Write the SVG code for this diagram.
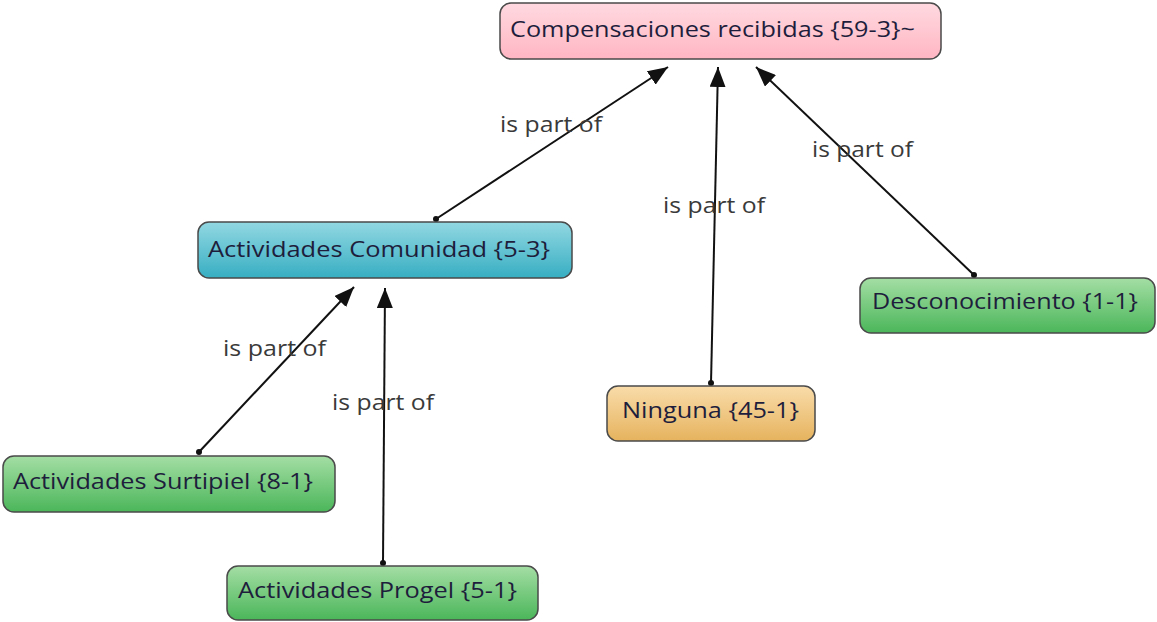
<svg xmlns="http://www.w3.org/2000/svg" width="1157" height="622" viewBox="0 0 1157 622">
  <style>
    .box { stroke: #4a4a4a; stroke-width: 1.5; }
    .name { font-family: "Open Sans", "Noto Sans", sans-serif; font-size: 21px; fill: #1e1e3c; }
    .edge { stroke: #111; stroke-width: 2; fill: none; }
    .lbl { font-family: "Open Sans", "Noto Sans", sans-serif; font-size: 21px; fill: #3a3a3a; }
  </style>
  <defs>
    <linearGradient id="gPink" x1="0" y1="0" x2="0" y2="1">
      <stop offset="0" stop-color="#ffd9e0"/>
      <stop offset="1" stop-color="#ffb6c3"/>
    </linearGradient>
    <linearGradient id="gBlue" x1="0" y1="0" x2="0" y2="1">
      <stop offset="0" stop-color="#92d8e2"/>
      <stop offset="1" stop-color="#37aec2"/>
    </linearGradient>
    <linearGradient id="gGreen" x1="0" y1="0" x2="0" y2="1">
      <stop offset="0" stop-color="#a4dea4"/>
      <stop offset="1" stop-color="#4bb65a"/>
    </linearGradient>
    <linearGradient id="gOrange" x1="0" y1="0" x2="0" y2="1">
      <stop offset="0" stop-color="#f9dcaa"/>
      <stop offset="1" stop-color="#e6b35e"/>
    </linearGradient>
    <marker id="arrow" markerUnits="userSpaceOnUse" markerWidth="22" markerHeight="16" refX="20" refY="8" orient="auto">
      <path d="M0,0 L20,8 L0,16 Z" fill="#111"/>
    </marker>
    <marker id="dot" markerUnits="userSpaceOnUse" markerWidth="8" markerHeight="8" refX="4" refY="4">
      <circle cx="4" cy="4" r="3" fill="#111"/>
    </marker>
  </defs>

  <!-- connectors -->
  <g id="connectors">
    <path class="edge" d="M436,219 L668,67" marker-start="url(#dot)" marker-end="url(#arrow)"/>
    <path class="edge" d="M711,383 L718,67" marker-start="url(#dot)" marker-end="url(#arrow)"/>
    <path class="edge" d="M974,275 L756,67" marker-start="url(#dot)" marker-end="url(#arrow)"/>
    <path class="edge" d="M199,452 L354,287" marker-start="url(#dot)" marker-end="url(#arrow)"/>
    <path class="edge" d="M383,563 L385,288" marker-start="url(#dot)" marker-end="url(#arrow)"/>
    <text class="lbl" x="500" y="132" textLength="102" lengthAdjust="spacingAndGlyphs">is part of</text>
    <text class="lbl" x="663" y="213" textLength="102" lengthAdjust="spacingAndGlyphs">is part of</text>
    <text class="lbl" x="812" y="157" textLength="101" lengthAdjust="spacingAndGlyphs">is part of</text>
    <text class="lbl" x="223" y="356" textLength="103" lengthAdjust="spacingAndGlyphs">is part of</text>
    <text class="lbl" x="332" y="410" textLength="102" lengthAdjust="spacingAndGlyphs">is part of</text>
  </g>

  <g id="compensaciones">
    <rect class="box" x="500" y="3" width="441" height="56" rx="11" fill="url(#gPink)"/>
    <text class="name" x="510" y="37" textLength="405" lengthAdjust="spacingAndGlyphs">Compensaciones recibidas {59-3}~</text>
  </g>
  <g id="comunidad">
    <rect class="box" x="198" y="222" width="374" height="56" rx="11" fill="url(#gBlue)"/>
    <text class="name" x="208" y="257" textLength="342" lengthAdjust="spacingAndGlyphs">Actividades Comunidad {5-3}</text>
  </g>
  <g id="surtipiel">
    <rect class="box" x="3" y="456" width="332" height="56" rx="11" fill="url(#gGreen)"/>
    <text class="name" x="13" y="489" textLength="300" lengthAdjust="spacingAndGlyphs">Actividades Surtipiel {8-1}</text>
  </g>
  <g id="progel">
    <rect class="box" x="227" y="566" width="311" height="54" rx="11" fill="url(#gGreen)"/>
    <text class="name" x="238" y="598" textLength="279" lengthAdjust="spacingAndGlyphs">Actividades Progel {5-1}</text>
  </g>
  <g id="ninguna">
    <rect class="box" x="607" y="386" width="208" height="55" rx="11" fill="url(#gOrange)"/>
    <text class="name" x="622" y="418" textLength="177" lengthAdjust="spacingAndGlyphs">Ninguna {45-1}</text>
  </g>
  <g id="desconocimiento">
    <rect class="box" x="860" y="278" width="295" height="55" rx="11" fill="url(#gGreen)"/>
    <text class="name" x="872" y="309" textLength="266" lengthAdjust="spacingAndGlyphs">Desconocimiento {1-1}</text>
  </g>
</svg>
